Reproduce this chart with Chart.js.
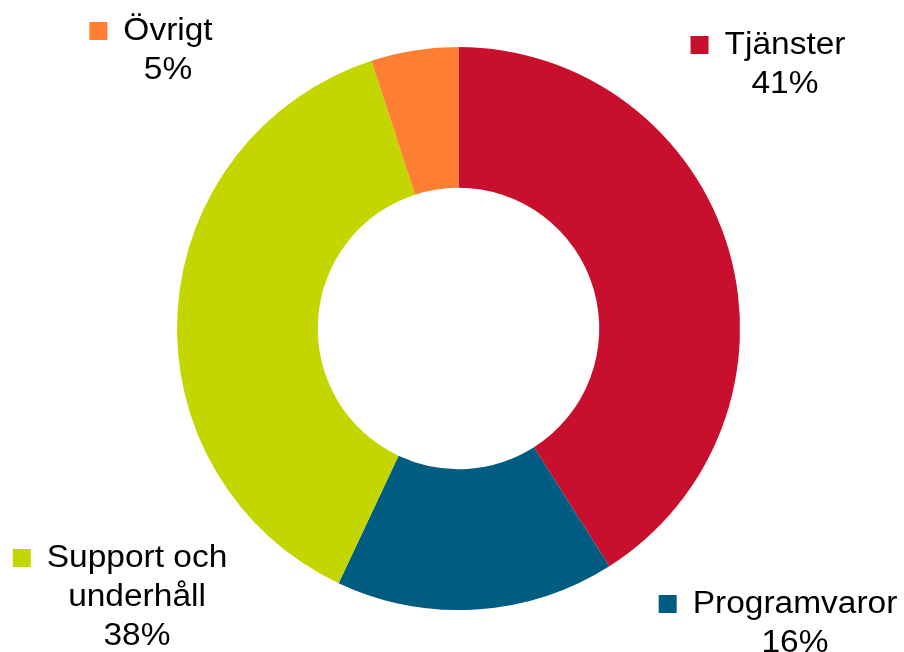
<!DOCTYPE html>
<html lang="sv">
<head>
  <meta charset="UTF-8" />
  <title>Intäktsfördelning</title>
  <script src="https://cdn.jsdelivr.net/npm/chart.js"></script>
  <style>
    html, body {
      margin: 0;
      padding: 0;
      background: #ffffff;
    }
    .chart-wrap {
      position: relative;
      width: 904px;
      height: 652px;
    }
  </style>
</head>
<body>

<div class="chart-wrap">
  <canvas id="revenueChart" width="904" height="652"></canvas>
</div>

<script>
  // data
  const categories = ['Tjänster', 'Programvaror', 'Support och underhåll', 'Övrigt'];
  const shares = [41, 16, 38, 5];
  const sliceColors = ['#C8102E', '#005C80', '#C4D600', '#FF7F32'];

  // label lines as shown next to the ring
  const labelLines = [
    ['Tjänster', '41%'],
    ['Programvaror', '16%'],
    ['Support och', 'underhåll', '38%'],
    ['Övrigt', '5%']
  ];

  // where each label block sits (centre x of text, centre y of first line)
  const labelSpots = [
    { x: 785, y: 45 },
    { x: 795, y: 604 },
    { x: 137, y: 558 },
    { x: 168, y: 31 }
  ];

  const stretchX = 1.08; // text in the original is a bit wide

  const calloutLabels = {
    id: 'calloutLabels',
    afterDraw(chart) {
      const ctx = chart.ctx;
      ctx.save();
      ctx.font = '31px "Liberation Sans", Arial, sans-serif';
      ctx.textAlign = 'center';
      ctx.textBaseline = 'middle';
      labelLines.forEach((lines, i) => {
        const spot = labelSpots[i];
        ctx.fillStyle = '#000000';
        lines.forEach((txt, j) => {
          ctx.save();
          ctx.translate(spot.x, spot.y + j * 39);
          ctx.scale(stretchX, 1);
          ctx.fillText(txt, 0, 0);
          ctx.restore();
        });
        // colour square left of first line
        const w = ctx.measureText(lines[0]).width * stretchX;
        const left = spot.x - w / 2;
        ctx.fillStyle = sliceColors[i];
        ctx.fillRect(left - 34, spot.y - 9, 18, 18);
      });
      ctx.restore();
    }
  };

  const ctx = document.getElementById('revenueChart').getContext('2d');

  new Chart(ctx, {
    type: 'doughnut',
    data: {
      labels: categories,
      datasets: [{
        data: shares,
        backgroundColor: sliceColors,
        borderWidth: 0
      }]
    },
    options: {
      responsive: false,
      animation: false,
      cutout: '50%',
      layout: {
        padding: { top: 47, bottom: 42, left: 13, right: 0 }
      },
      plugins: {
        legend: { display: false },
        tooltip: { enabled: false }
      }
    },
    plugins: [calloutLabels]
  });
</script>

</body>
</html>
